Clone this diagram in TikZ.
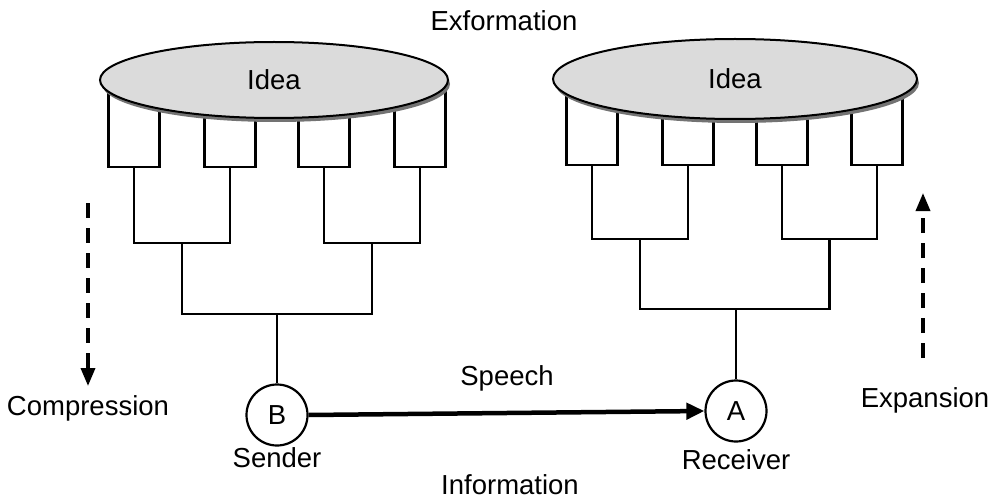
\documentclass[tikz,border=0pt]{standalone}
\usepackage{fontspec}
\setmainfont{Liberation Sans}
\usetikzlibrary{shapes.geometric,arrows.meta}

\begin{document}
\begin{tikzpicture}[x=1pt,y=-1pt,
  lbl/.style={font=\fontsize{27.5}{32}\selectfont, inner sep=0pt, anchor=base},
  cloud/.style={ellipse, draw, line width=2pt, fill=gray!28, inner sep=0pt,
    font=\fontsize{27.5}{32}\selectfont},
  cloudshadow/.style={ellipse, fill=black!55, inner sep=0pt},
  leaf/.style={rectangle, draw, line width=2.3pt, fill=white,
    minimum width=51pt, inner sep=0pt},
  tree/.style={line width=2.3pt},
  agent/.style={circle, draw, line width=2.2pt, minimum size=61pt, inner sep=0pt,
    font=\fontsize{27.5}{32}\selectfont},
  flow/.style={line width=3.5pt, dash pattern=on 15pt off 10pt,
    -{Triangle[length=18pt,width=14pt]}},
  talk/.style={line width=4.5pt, -{Triangle[length=18pt,width=16pt]}}]

\useasboundingbox (0,0) rectangle (998,500);

% ---- sender side: leaves of the idea ----
\node[leaf, minimum height=79pt] (l1) at (134,127.5) {};
\node[leaf, minimum height=79pt] (l2) at (230,127.5) {};
\node[leaf, minimum height=79pt] (l3) at (324,127.5) {};
\node[leaf, minimum height=79pt] (l4) at (420,127.5) {};
\node[cloudshadow, minimum width=348pt, minimum height=76pt] (sh1) at (276,84) {};
\node[cloud, minimum width=348pt, minimum height=76pt] (idea1) at (274,80) {Idea};

\coordinate (j1) at (182,243);
\coordinate (j2) at (372,243);
\coordinate (j3) at (277,314);
\node[agent] (B) at (277,415) {B};

\draw[tree] (l1.south) |- (j1) -| (l2.south);
\draw[tree] (l3.south) |- (j2) -| (l4.south);
\draw[tree] (j1) |- (j3) -| (j2);
\draw[tree] (j3) -- (B.north);

% ---- receiver side ----
\node[leaf, minimum height=77pt] (r1) at (592,126.5) {};
\node[leaf, minimum height=77pt] (r2) at (688,126.5) {};
\node[leaf, minimum height=77pt] (r3) at (782,126.5) {};
\node[leaf, minimum height=77pt] (r4) at (877,126.5) {};
\node[cloudshadow, minimum width=364pt, minimum height=80pt] (sh2) at (737,83) {};
\node[cloud, minimum width=364pt, minimum height=80pt] (idea2) at (735,79) {Idea};

\coordinate (k1) at (640,239);
\coordinate (k2) at (829.5,239);
\coordinate (k3) at (736,309);
\node[agent] (A) at (736,411) {A};

\draw[tree] (r1.south) |- (k1) -| (r2.south);
\draw[tree] (r3.south) |- (k2) -| (r4.south);
\draw[tree] (k1) |- (k3) -| (k2);
\draw[tree] (k3) -- (A.north);

% ---- speech from sender to receiver ----
\draw[talk] (B.east) -- (A.west);

% ---- compression and expansion ----
\coordinate (c0) at (88,203);
\coordinate (c1) at (88,386);
\coordinate (e0) at (923,358);
\coordinate (e1) at (923,193);
\draw[flow] (c0) -- (c1);
\draw[flow] (e0) -- (e1);

% ---- labels ----
\node[lbl] (exf) at (504,31) {Exformation};
\node[lbl] (cmp) at (88,415) {Compression};
\node[lbl] (exp) at (925,407) {Expansion};
\node[lbl] (sp) at (507,385) {Speech};
\node[lbl] (snd) at (277,467) {Sender};
\node[lbl] (rcv) at (736,469) {Receiver};
\node[lbl] (inf) at (510,494) {Information};
\end{tikzpicture}
\end{document}
